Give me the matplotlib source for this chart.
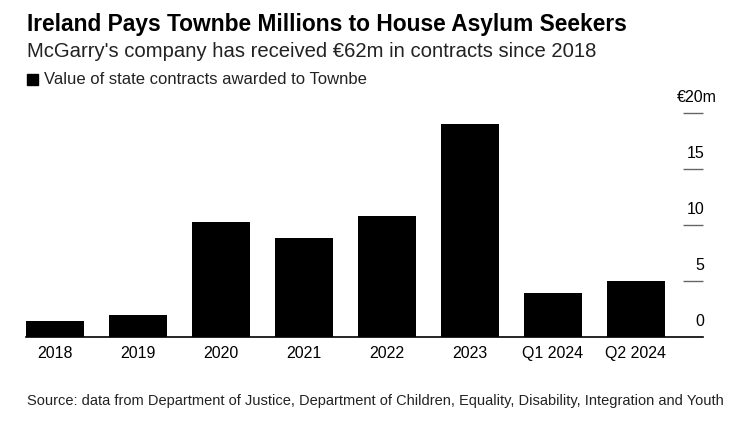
import matplotlib
matplotlib.use("Agg")
import matplotlib.pyplot as plt

categories = ["2018", "2019", "2020", "2021", "2022", "2023", "Q1 2024", "Q2 2024"]
values = [1.45, 2.0, 10.3, 8.85, 10.8, 19.05, 3.95, 5.0]
y_ticks = [0, 5, 10, 15, 20]
y_labels = ["0", "5", "10", "15", "€20m"]

plt.rcParams['font.family'] = ['Liberation Sans', 'DejaVu Sans']

fig = plt.figure(figsize=(7.34, 4.25), dpi=100)
ax = fig.add_axes([26 / 734, 1 - 337.3 / 425, (703 - 26) / 734, (337.3 - 113.3) / 425])

x = list(range(len(categories)))
ax.bar(x, values, width=0.7, color='black', zorder=2)
ax.set_xlim(-0.35, 7.81)
ax.set_ylim(0, 20)

for s in ['top', 'left', 'right']:
    ax.spines[s].set_visible(False)
ax.spines['bottom'].set_color('black')
ax.spines['bottom'].set_linewidth(1.2)
ax.spines['bottom'].set_zorder(3)

ax.set_xticks(x)
ax.set_xticklabels(categories, fontsize=11.5)
ax.tick_params(axis='x', length=0, pad=6)

ax.yaxis.tick_right()
ax.set_yticks(y_ticks[1:])
ax.set_yticklabels([])
ax.tick_params(axis='y', direction='in', length=14.5, width=1.0, color='#666666')

# value labels sit above the tick marks; "m" of the top label hangs past the edge
for v, lab in zip(y_ticks, y_labels):
    dx = 9.8 if lab.endswith("m") else 0.8
    ax.annotate(lab, xy=(1, v), xycoords=('axes fraction', 'data'),
                xytext=(dx, 6), textcoords='offset points',
                ha='right', va='bottom', fontsize=11.5, annotation_clip=False)

fig.text(27 / 734, 1 - 31 / 425, "Ireland Pays Townbe Millions to House Asylum Seekers",
         fontsize=16.4, fontweight='bold', ha='left', va='baseline')
fig.text(27 / 734, 1 - 57 / 425, "McGarry's company has received €62m in contracts since 2018",
         fontsize=14.6, color='#222222', ha='left', va='baseline')
fig.patches.append(plt.Rectangle((27 / 734, 1 - 85 / 425), 11 / 734, 11 / 425,
                                 transform=fig.transFigure, color='black'))
fig.text(44 / 734, 1 - 84.5 / 425, "Value of state contracts awarded to Townbe",
         fontsize=12, color='#222222', ha='left', va='baseline')
fig.text(27 / 734, 1 - 405 / 425,
         "Source: data from Department of Justice, Department of Children, Equality, Disability, Integration and Youth",
         fontsize=10.5, color='#222222', ha='left', va='baseline')

fig.savefig("out.png", dpi=100)
